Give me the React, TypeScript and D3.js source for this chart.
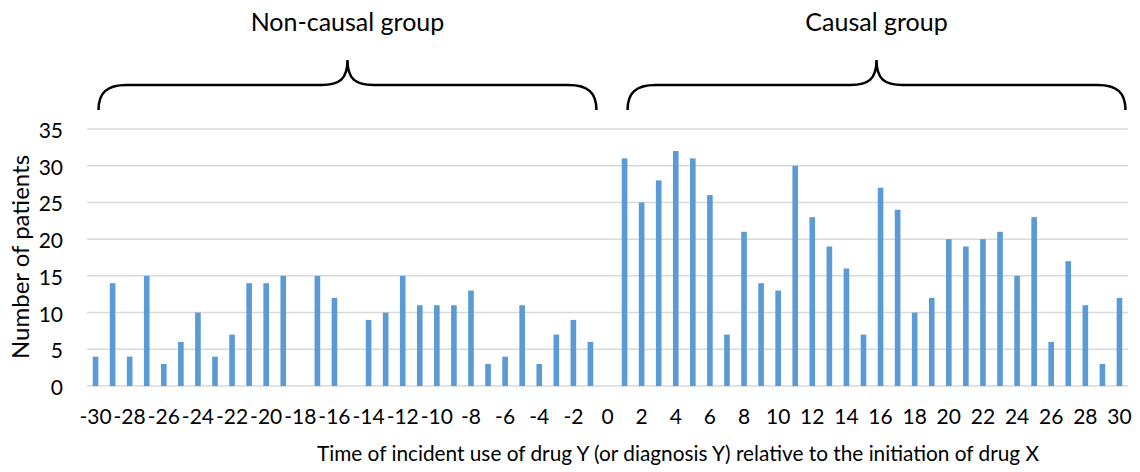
import React from 'react';
import * as d3 from 'd3';

// days relative to initiation of drug X
const days: number[] = d3.range(-30, 31);
const patients: number[] = [
  4, 14, 4, 15, 3, 6, 10, 4, 7, 14, 14, 15, 0, 15, 12, 0, 9, 10, 15, 11, 11, 11, 13, 3, 4, 11, 3, 7, 9, 6,
  0,
  31, 25, 28, 32, 31, 26, 7, 21, 14, 13, 30, 23, 19, 16, 7, 27, 24, 10, 12, 20, 19, 20, 21, 15, 23, 6, 17, 11, 3, 12,
];
const yTicks: number[] = [0, 5, 10, 15, 20, 25, 30, 35];
const groups = [
  { name: 'Non-causal group', from: -30, to: -1 },
  { name: 'Causal group', from: 1, to: 30 },
];

const W = 1140;
const H = 472;
const FONT = 'Lato, "Open Sans", sans-serif';

const App = () => {
  const x = d3.scaleBand<number>().domain(days).range([87, 1128]).paddingInner(0.67).paddingOuter(0.335);
  const y = d3.scaleLinear().domain([0, 35]).range([386, 129]);
  const cx = (d: number) => (x(d) as number) + x.bandwidth() / 2;

  const brace = (x0: number, x1: number) => {
    const xm = (x0 + x1) / 2;
    const yb = 110, yh = 85, yt = 60;
    const p = d3.path();
    p.moveTo(x0, yb);
    p.bezierCurveTo(x0, yh + 8, x0 + 8, yh, x0 + 28, yh);
    p.lineTo(xm - 26, yh);
    p.bezierCurveTo(xm - 8, yh, xm, yh - 6, xm, yt);
    p.bezierCurveTo(xm, yh - 6, xm + 8, yh, xm + 26, yh);
    p.lineTo(x1 - 28, yh);
    p.bezierCurveTo(x1 - 8, yh, x1, yh + 8, x1, yb);
    return p.toString();
  };

  return (
    <svg width={W} height={H} style={{ display: 'block', position: 'absolute', left: 0, top: 0, background: '#fff' }}
      fontFamily={FONT}>
      {yTicks.map(t => (
        <g key={t}>
          <line x1={87} x2={1128} y1={y(t)} y2={y(t)} stroke="#d9d9d9" strokeWidth={1.5} />
          <text x={63} y={y(t) + 9} textAnchor="end" fontSize={21} fill="#000">{t}</text>
        </g>
      ))}
      {days.map((d, i) => patients[i] > 0 ? (
        <rect key={d} x={x(d)} y={y(patients[i])} width={x.bandwidth()} height={y(0) - y(patients[i])} fill="#5b9bd5" />
      ) : null)}
      {days.filter(d => d % 2 === 0).map(d => (
        <text key={d} x={cx(d)} y={424} textAnchor="middle" fontSize={21} fill="#000">{d}</text>
      ))}
      <text x={678} y={461} textAnchor="middle" fontSize={20.8} fill="#000">
        Time of incident use of drug Y (or diagnosis Y) relative to the initiation of drug X
      </text>
      <text transform="translate(29,257) rotate(-90)" textAnchor="middle" fontSize={24} fill="#000">
        Number of patients
      </text>
      {groups.map(g => {
        const x0 = cx(g.from) + 3;
        const x1 = cx(g.to) + 6;
        return (
          <g key={g.name}>
            <path d={brace(x0, x1)} fill="none" stroke="#000" strokeWidth={2.5} />
            <text x={(x0 + x1) / 2} y={31} textAnchor="middle" fontSize={25} fill="#000">{g.name}</text>
          </g>
        );
      })}
    </svg>
  );
};

export default App;
